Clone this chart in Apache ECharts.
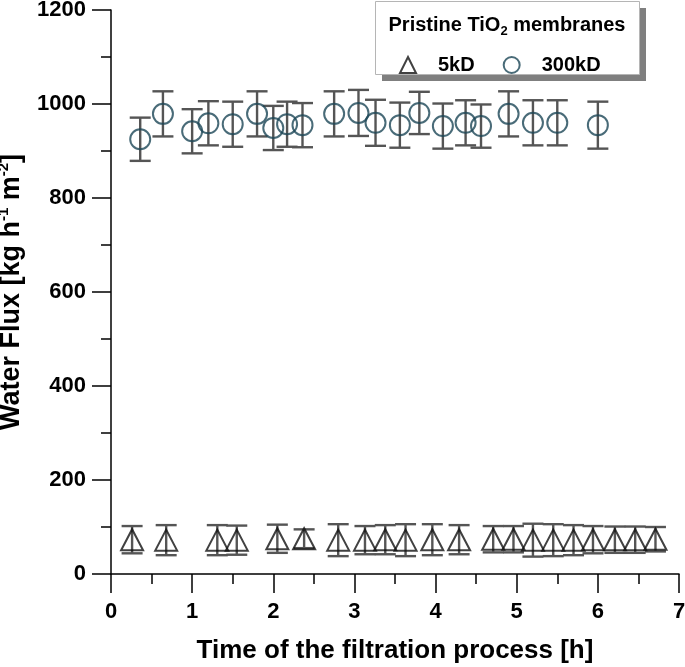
<!DOCTYPE html>
<html>
<head>
<meta charset="utf-8">
<script src="https://cdn.jsdelivr.net/npm/echarts@6/dist/echarts.min.js"></script>
<style>html,body{margin:0;padding:0;background:#fff}#c{width:685px;height:667px}</style>
</head>
<body>
<div id="c"></div>
<script>
// ---- data ----
var time300 = [0.36, 0.64, 1.00, 1.20, 1.50, 1.80, 2.00, 2.17, 2.36, 2.75, 3.05, 3.26, 3.56, 3.80, 4.09, 4.37, 4.56, 4.90, 5.20, 5.50, 6.00];
var flux300 = [925, 979, 942, 959, 957, 979, 949, 957, 955, 979, 981, 960, 955, 981, 953, 960, 953, 979, 960, 960, 955];
var err300  = [46, 48, 47, 47, 48, 48, 47, 48, 47, 48, 49, 49, 48, 45, 48, 48, 46, 48, 48, 48, 50];

var time5 = [0.26, 0.68, 1.31, 1.55, 2.05, 2.38, 2.80, 3.13, 3.38, 3.63, 3.96, 4.29, 4.71, 4.96, 5.20, 5.45, 5.70, 5.94, 6.21, 6.46, 6.71];
var flux5 = [73, 72, 72, 72, 75, 75, 72, 72, 73, 72, 73, 73, 74, 74, 72, 72, 72, 73, 73, 73, 74];
var err5  = [29, 32, 32, 31, 30, 20, 34, 30, 31, 34, 33, 31, 28, 28, 35, 34, 32, 29, 28, 28, 26];

var xTicks = [0, 1, 2, 3, 4, 5, 6, 7];
var yTicks = [0, 200, 400, 600, 800, 1000, 1200];
var seriesNames = ['5kD', '300kD'];

// ---- build ----
var FONT = '"Liberation Sans", Arial, Helvetica, sans-serif';
function pts(xs, ys) { return xs.map(function (x, i) { return [x, ys[i]]; }); }
function errs(xs, ys, es) { return xs.map(function (x, i) { return [x, ys[i], es[i]]; }); }

function errRender(params, api) {
  var x = api.value(0), y = api.value(1), e = api.value(2);
  var hi = api.coord([x, y + e]);
  var lo = api.coord([x, y - e]);
  var hw = 10.5;
  var st = { stroke: '#555', lineWidth: 2.4 };
  return {
    type: 'group',
    children: [
      { type: 'line', shape: { x1: hi[0], y1: hi[1], x2: lo[0], y2: lo[1] }, style: st },
      { type: 'line', shape: { x1: hi[0] - hw, y1: hi[1], x2: hi[0] + hw, y2: hi[1] }, style: st },
      { type: 'line', shape: { x1: lo[0] - hw, y1: lo[1], x2: lo[0] + hw, y2: lo[1] }, style: st }
    ]
  };
}

var chart = echarts.init(document.getElementById('c'), null, { renderer: 'canvas' });
var option = {
  backgroundColor: '#fff',
  animation: false,
  textStyle: { fontFamily: FONT },
  grid: { left: 111, right: 6, top: 10, bottom: 93, containLabel: false, outerBoundsMode: 'none' },
  xAxis: {
    type: 'value', min: xTicks[0], max: xTicks[xTicks.length - 1], interval: 1,
    name: 'Time of the filtration process [h]', nameLocation: 'middle', nameGap: 64,
    nameTextStyle: { fontFamily: FONT, fontWeight: 'bold', fontSize: 26, color: '#000' },
    axisLine: { lineStyle: { color: '#000', width: 1.5 } },
    axisTick: { show: true, inside: false, length: 19, lineStyle: { color: '#000', width: 1.5 } },
    minorTick: { show: true, splitNumber: 2, length: 10, lineStyle: { color: '#000', width: 1.5 } },
    axisLabel: { fontFamily: FONT, fontWeight: 'bold', fontSize: 22, color: '#000', margin: 27,
      formatter: function (v) { return String(v); } },
    splitLine: { show: false }
  },
  yAxis: {
    type: 'value', min: yTicks[0], max: yTicks[yTicks.length - 1], interval: 200,
    name: 'Water Flux [kg h{sup|-1} m{sup|-2}]', nameLocation: 'middle', nameGap: 75,
    nameTextStyle: {
      fontFamily: FONT, fontWeight: 'bold', fontSize: 27, color: '#000', lineHeight: 30,
      rich: { sup: { fontFamily: FONT, fontWeight: 'bold', fontSize: 15, color: '#000', verticalAlign: 'top', lineHeight: 30 } }
    },
    axisLine: { lineStyle: { color: '#000', width: 1.5 } },
    axisTick: { show: true, inside: false, length: 19, lineStyle: { color: '#000', width: 1.5 } },
    minorTick: { show: true, splitNumber: 2, length: 10, lineStyle: { color: '#000', width: 1.5 } },
    axisLabel: { fontFamily: FONT, fontWeight: 'bold', fontSize: 22, color: '#000', margin: 25,
      formatter: function (v) { return String(v); } },
    splitLine: { show: false }
  },
  legend: {
    show: true, selectedMode: false, orient: 'horizontal', z: 100,
    left: 394, top: 50, itemWidth: 16, itemHeight: 16, itemGap: 28,
    data: seriesNames,
    textStyle: { fontFamily: FONT, fontWeight: 'bold', fontSize: 20, color: '#000', padding: [0, 0, 0, 17] }
  },
  graphic: [
    { type: 'rect', silent: true, z: 50, shape: { x: 382, y: 8, width: 264, height: 73 }, style: { fill: '#7f7f7f' } },
    { type: 'rect', silent: true, z: 51, shape: { x: 375.5, y: 1.5, width: 264, height: 73 }, style: { fill: '#fff', stroke: '#b5b5b5', lineWidth: 1 } },
    { type: 'text', silent: true, z: 52, x: 507, y: 25,
      style: {
        text: 'Pristine TiO{sub|2} membranes', align: 'center', verticalAlign: 'middle',
        font: 'bold 20px ' + FONT, fill: '#000',
        rich: { sub: { font: 'bold 13px ' + FONT, fill: '#000', verticalAlign: 'bottom', lineHeight: 26 } },
        lineHeight: 26
      }
    }
  ],
  series: [
    {
      name: '5kD', type: 'scatter', symbol: 'triangle', symbolSize: [22, 21], z: 3,
      itemStyle: { color: 'rgba(255,255,255,0)', borderColor: '#111', borderWidth: 2 },
      data: pts(time5, flux5)
    },
    {
      name: '300kD', type: 'scatter', symbol: 'circle', symbolSize: 20, z: 3,
      itemStyle: { color: 'rgba(255,255,255,0)', borderColor: '#1b4656', borderWidth: 2 },
      data: pts(time300, flux300)
    },
    { name: '5kD err', type: 'custom', renderItem: errRender, z: 2, data: errs(time5, flux5, err5), silent: true },
    { name: '300kD err', type: 'custom', renderItem: errRender, z: 2, data: errs(time300, flux300, err300), silent: true }
  ]
};
chart.setOption(option);
</script>
</body>
</html>
